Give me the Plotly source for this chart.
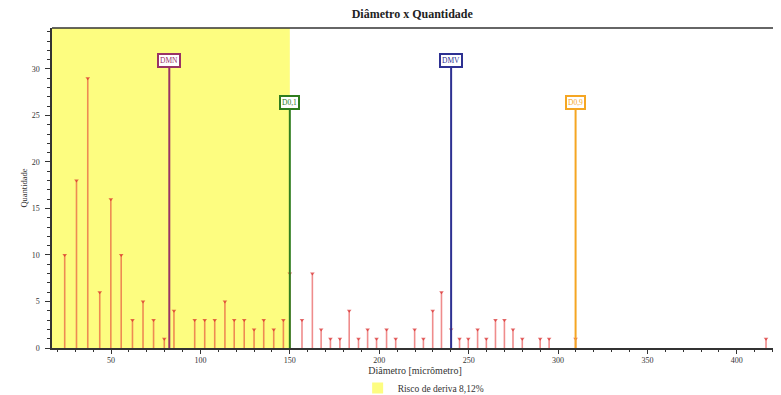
import plotly.graph_objects as go

diametro = [24.1, 30.7, 37.0, 43.7, 49.9, 55.7, 62.0, 67.9, 73.8, 79.8, 85.2,
            96.8, 102.4, 108.0, 113.7, 118.9, 124.5, 130.0, 135.4, 141.0, 146.4,
            150.0, 156.8, 162.6, 167.5, 172.7, 178.0, 183.2, 188.4, 193.5, 198.5,
            204.1, 209.2, 219.8, 224.7, 229.9, 234.8, 240.2, 244.9, 249.8, 255.0,
            259.9, 265.0, 270.0, 274.8, 280.0, 290.0, 295.0, 309.8, 416.3]
quantidade = [10, 18, 29, 6, 16, 10, 3, 5, 3, 1, 4,
              3, 3, 3, 5, 3, 3, 2, 3, 2, 3,
              8, 3, 8, 2, 1, 1, 4, 1, 2, 1,
              2, 1, 2, 1, 4, 6, 2, 1, 1, 2,
              1, 3, 3, 2, 1, 1, 1, 1, 1]

ref_nomes = ["DMN", "D0,1", "DMV", "D0,9"]
ref_x = [82.6, 150.0, 240.2, 309.8]
ref_y = [30.9, 26.4, 30.9, 26.4]
ref_cores = ["#993366", "#2e7d1e", "#2e3192", "#f5a623"]

risco_limite = 150.0
risco_texto = "Risco de deriva 8,12%"

x_ticks = [50, 100, 150, 200, 250, 300, 350, 400]
y_ticks = [0, 5, 10, 15, 20, 25, 30]

FONT = "Liberation Serif"
YELLOW = "#fdfd80"
AXC = "#333333"

fig = go.Figure()

# yellow region
fig.add_shape(type="rect", xref="x", yref="paper", x0=0, x1=risco_limite,
              y0=0, y1=1, fillcolor=YELLOW, line_width=0, layer="below")

# legend entry for yellow region
fig.add_trace(go.Scatter(x=[None], y=[None], mode="markers", name=risco_texto,
                         marker=dict(symbol="square", size=11, color=YELLOW),
                         showlegend=True))

# stems
sx, sy = [], []
for xv, yv in zip(diametro, quantidade):
    sx += [xv, xv, None]
    sy += [0, yv, None]
fig.add_trace(go.Scatter(x=sx, y=sy, mode="lines", showlegend=False,
                         line=dict(color="rgba(225,45,45,0.55)", width=1.6),
                         hoverinfo="skip"))
fig.add_trace(go.Scatter(x=diametro, y=quantidade, mode="markers", showlegend=False,
                         marker=dict(symbol="triangle-down", size=4,
                                     color="rgba(215,40,40,0.7)")))

# reference lines
for nome, xv, yv, cor in zip(ref_nomes, ref_x, ref_y, ref_cores):
    fig.add_trace(go.Scatter(x=[xv, xv], y=[0, yv], mode="lines", showlegend=False,
                             line=dict(color=cor, width=2)))
    fig.add_annotation(x=xv, y=yv, text=nome, showarrow=False, yanchor="middle",
                       font=dict(family=FONT, size=7.5, color=cor),
                       bgcolor="white", bordercolor=cor, borderwidth=2, borderpad=1)

# top border line
fig.add_shape(type="line", xref="paper", yref="paper", x0=0, x1=1, y0=1, y1=1,
              line=dict(color=AXC, width=1.5))

# page body has an 8px margin, so the figure is sized to fit the window
fig.update_layout(
    width=773, height=387,
    margin=dict(l=44, r=3, t=20, b=47, autoexpand=False),
    plot_bgcolor="white", paper_bgcolor="white",
    title=dict(text="<b>Diâmetro x Quantidade</b>", x=0.523, xanchor="center",
               y=0.984, yanchor="middle",
               font=dict(family=FONT, size=12, color="#222222")),
    showlegend=True,
    legend=dict(orientation="h", x=0.421, y=-0.125, xanchor="left", yanchor="middle",
                font=dict(family=FONT, size=9.5, color=AXC),
                bgcolor="rgba(0,0,0,0)"),
    xaxis=dict(range=[17, 423], tickvals=x_ticks, ticks="outside", ticklen=4,
               tickcolor=AXC, showgrid=False, zeroline=False, automargin=False,
               showline=True, linecolor=AXC, linewidth=1.5,
               minor=dict(dtick=10, ticks="outside", ticklen=2, tickcolor=AXC),
               tickfont=dict(family=FONT, size=8, color=AXC),
               title=dict(text="Diâmetro [micrômetro]", standoff=2,
                          font=dict(family=FONT, size=10, color=AXC))),
    yaxis=dict(range=[0, 34.4], tickvals=y_ticks, ticks="outside", ticklen=5,
               tickcolor=AXC, showgrid=False, zeroline=False, automargin=False,
               showline=True, linecolor=AXC, linewidth=1.5, ticklabelstandoff=4,
               minor=dict(dtick=1, ticks="outside", ticklen=3, tickcolor=AXC),
               tickfont=dict(family=FONT, size=8, color=AXC),
               title=dict(text="Quantidade", standoff=3,
                          font=dict(family=FONT, size=8.5, color=AXC))),
)

fig.write_html("out.html")
